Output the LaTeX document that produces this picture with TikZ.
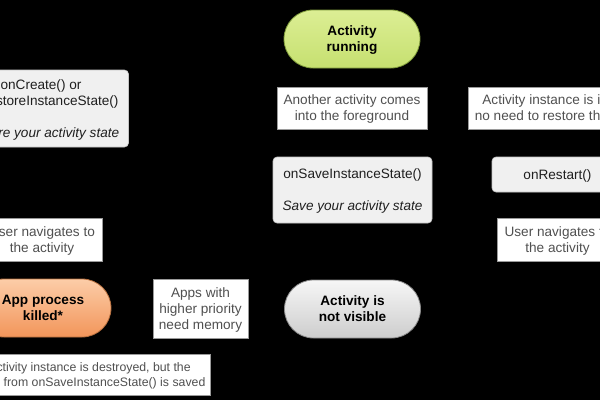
\documentclass[tikz,border=0pt]{standalone}
\usepackage{fontspec}
\setmainfont{Liberation Sans}
\definecolor{bgk}{HTML}{000000}
\definecolor{greenT}{HTML}{DCEE94}
\definecolor{greenB}{HTML}{C6E070}
\definecolor{greenD}{HTML}{7E9A3A}
\definecolor{grayT}{HTML}{F6F6F6}
\definecolor{grayB}{HTML}{CDCDCD}
\definecolor{grayD}{HTML}{8A8A8A}
\definecolor{orT}{HTML}{FCCDA8}
\definecolor{orB}{HTML}{F2955A}
\definecolor{orD}{HTML}{B8703F}
\definecolor{lblText}{HTML}{505050}
\definecolor{lblLine}{HTML}{9A9A9A}
\definecolor{cbFill}{HTML}{F0F0F0}
\definecolor{cbLine}{HTML}{C4C4C4}
\begin{document}
\begin{tikzpicture}[x=1pt,y=-1pt,
  base/.style={font=\fontsize{13.6}{16}\selectfont, align=center, inner sep=0pt, anchor=center, text depth=-1pt},
  pill/.style={base, font=\fontsize{13.6}{16}\selectfont\bfseries, text=black,
    rounded corners=29pt, minimum width=136pt, minimum height=58pt, line width=0.8pt},
  greenpill/.style={pill, draw=greenD, top color=greenT, bottom color=greenB},
  graypill/.style={pill, draw=grayD, top color=grayT, bottom color=grayB},
  orangepill/.style={pill, draw=orD, top color=orT, bottom color=orB},
  lbl/.style={base, text=lblText, fill=white, draw=lblLine, line width=0.6pt},
  cbbox/.style={base, text=black!88, fill=cbFill, draw=cbLine, rounded corners=4pt, line width=0.6pt},
]
\useasboundingbox (0,0) rectangle (600,400);
\fill[bgk] (0,0) rectangle (600,400);
\clip (0,0) rectangle (600,400);

% states
\node[greenpill] (running) at (352,39) {Activity\\running};
\node[graypill] (notvis) at (352.5,309) {Activity is\\not visible};
\node[orangepill] (killed) at (43,308) {App process\\killed*};

% callback boxes
\node[cbbox, minimum width=159pt, minimum height=66pt] (save) at (352.5,190)
  {onSaveInstanceState()\\[16pt]\textit{Save your activity state}};
\node[cbbox, minimum width=175pt, minimum height=77pt] (create) at (41,108.5)
  {onCreate() or\\onRestoreInstanceState()\\[16pt]\textit{Restore your activity state}};
\node[cbbox, minimum width=131pt, minimum height=35pt] (restart) at (557.5,174.5)
  {onRestart()};

% transition labels
\node[lbl, minimum width=150pt, minimum height=42pt] (another) at (352,108)
  {Another activity comes\\into the foreground};
\node[lbl, minimum width=180pt, minimum height=42pt] (intact) at (558,108)
  {Activity instance is intact;\\no need to restore the state};
\node[lbl, minimum width=121pt, minimum height=43pt] (navR) at (557.5,239.5)
  {User navigates to\\the activity};
\node[lbl, minimum width=120pt, minimum height=43pt] (navL) at (42,239.5)
  {User navigates to\\the activity};
\node[lbl, minimum width=95pt, minimum height=59pt] (memory) at (200.5,308.5)
  {Apps with\\higher priority\\need memory};
\node[lbl, minimum width=241pt, minimum height=41pt, font=\fontsize{12.3}{15}\selectfont] (destroyed) at (89.5,374.5)
  {Activity instance is destroyed, but the\\state from onSaveInstanceState() is saved};
\end{tikzpicture}
\end{document}
